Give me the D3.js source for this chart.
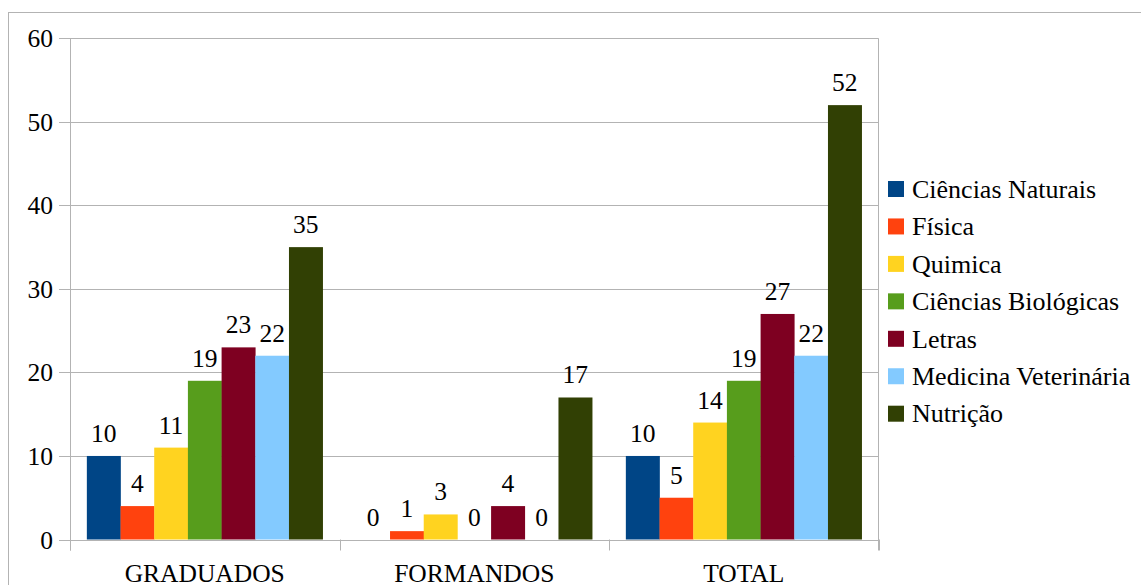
<!DOCTYPE html>
<html>
<head>
<meta charset="utf-8">
<script src="https://cdn.jsdelivr.net/npm/d3@7"></script>
</head>
<body style="margin:0">
<svg id="chart" width="1141" height="585"></svg>
<script>
// Categories along the x axis
const categories = ["GRADUADOS", "FORMANDOS", "TOTAL"];
// Series (courses) and their colours
const seriesNames = ["Ciências Naturais", "Física", "Quimica", "Ciências Biológicas", "Letras", "Medicina Veterinária", "Nutrição"];
const seriesColors = ["#004586", "#ff420e", "#ffd320", "#579d1c", "#7e0021", "#83caff", "#314004"];
// Values per series, one per category
const cienciasNaturais   = [10, 0, 10];
const fisica             = [4, 1, 5];
const quimica            = [11, 3, 14];
const cienciasBiologicas = [19, 0, 19];
const letras             = [23, 4, 27];
const medicinaVeterinaria= [22, 0, 22];
const nutricao           = [35, 17, 52];
const seriesValues = [cienciasNaturais, fisica, quimica, cienciasBiologicas, letras, medicinaVeterinaria, nutricao];
// Y axis ticks
const yTicks = [0, 10, 20, 30, 40, 50, 60];

const svg = d3.select("#chart");
const grid = "#b3b3b3";

// Apply the serif face to a text selection
function serif(sel, size) {
  return sel
    .attr("font-family", "Liberation Serif")
    .attr("font-size", size)
    .style("font-family", d => '"Liberation Serif"');
}

// Outer frame
svg.append("rect")
  .attr("x", 8.5).attr("y", 12.5)
  .attr("width", 1160).attr("height", 600)
  .attr("fill", "none").attr("stroke", grid).attr("stroke-width", 1);

const plot = { left: 70, right: 878.5, top: 38.3, bottom: 539.5 };

const y = d3.scaleLinear().domain([0, 60]).range([plot.bottom, plot.top]);
const x0 = d3.scaleBand().domain(categories).range([plot.left, plot.right]).padding(0);
const x1 = d3.scaleBand().domain(seriesNames).range([0, x0.bandwidth()]).paddingInner(0).paddingOuter(0.5);

// Horizontal gridlines with left tick marks
svg.selectAll("line.grid").data(yTicks).join("line")
  .attr("class", "grid")
  .attr("x1", plot.left - 11).attr("x2", plot.right)
  .attr("y1", d => Math.round(y(d)) + 0.5).attr("y2", d => Math.round(y(d)) + 0.5)
  .attr("stroke", grid).attr("stroke-width", 1);

// Left and right plot borders
svg.append("line").attr("x1", plot.left + 0.5).attr("x2", plot.left + 0.5)
  .attr("y1", plot.top).attr("y2", plot.bottom + 11).attr("stroke", grid);
svg.append("line").attr("x1", plot.right).attr("x2", plot.right)
  .attr("y1", plot.top).attr("y2", plot.bottom + 11).attr("stroke", grid);

// Category separator ticks
const sepX = categories.map(c => x0(c)).concat([plot.right]);
svg.selectAll("line.sep").data(sepX).join("line")
  .attr("class", "sep")
  .attr("x1", d => Math.round(d) + 0.5).attr("x2", d => Math.round(d) + 0.5)
  .attr("y1", plot.bottom).attr("y2", plot.bottom + 11)
  .attr("stroke", grid);

// Y tick labels
serif(svg.selectAll("text.ytick").data(yTicks).join("text")
  .attr("class", "ytick")
  .attr("x", 53).attr("y", d => y(d) + 9)
  .attr("text-anchor", "end"), 25.5)
  .text(d => d);

// Bars and value labels, flattened per category and series
const cells = categories.flatMap((c, ci) => seriesNames.map((s, si) => ({ c, s, si, v: seriesValues[si][ci] })));

svg.selectAll("rect.bar").data(cells).join("rect")
  .attr("class", "bar")
  .attr("x", d => x0(d.c) + x1(d.s))
  .attr("y", d => y(d.v))
  .attr("width", x1.bandwidth() + 0.3)
  .attr("height", d => y(0) - y(d.v))
  .attr("fill", d => seriesColors[d.si]);

serif(svg.selectAll("text.value").data(cells).join("text")
  .attr("class", "value")
  .attr("x", d => x0(d.c) + x1(d.s) + x1.bandwidth() / 2)
  .attr("y", d => y(d.v) - 14)
  .attr("text-anchor", "middle"), 25.5)
  .text(d => d.v);

// Category labels
serif(svg.selectAll("text.cat").data(categories).join("text")
  .attr("class", "cat")
  .attr("x", c => x0(c) + x0.bandwidth() / 2)
  .attr("y", 582)
  .attr("text-anchor", "middle"), 25.5)
  .text(c => c);

// Legend
svg.selectAll("rect.key").data(seriesNames).join("rect")
  .attr("class", "key")
  .attr("x", 888).attr("y", (d, i) => 181 + i * 37.45)
  .attr("width", 16).attr("height", 16)
  .attr("fill", (d, i) => seriesColors[i]);
serif(svg.selectAll("text.key").data(seriesNames).join("text")
  .attr("class", "key")
  .attr("x", 912).attr("y", (d, i) => 197.7 + i * 37.45), 26)
  .text(d => d);
</script>
</body>
</html>
